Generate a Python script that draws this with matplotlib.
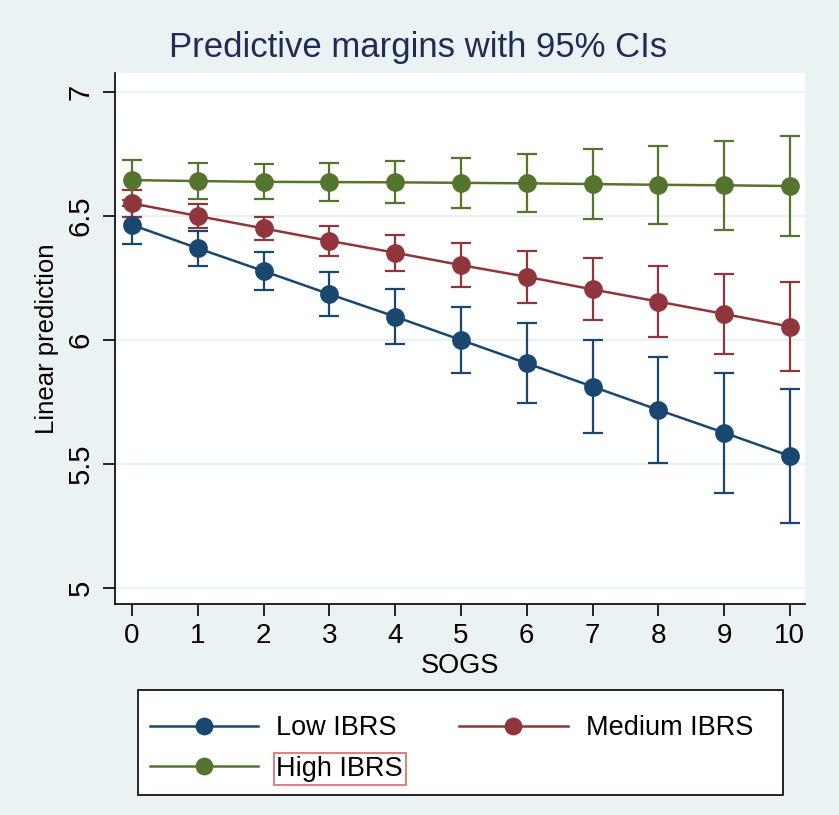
import matplotlib
matplotlib.use("Agg")
import matplotlib.pyplot as plt
from matplotlib.patches import Rectangle
import numpy as np

plt.rcParams['font.family'] = ['Liberation Sans', 'DejaVu Sans']

sogs = [0, 1, 2, 3, 4, 5, 6, 7, 8, 9, 10]
low_mean = [6.464, 6.370, 6.278, 6.185, 6.094, 6.000, 5.906, 5.812, 5.718, 5.626, 5.532]
low_half = [0.078, 0.071, 0.075, 0.090, 0.110, 0.135, 0.162, 0.188, 0.215, 0.242, 0.270]
med_mean = [6.551, 6.500, 6.450, 6.400, 6.352, 6.302, 6.255, 6.204, 6.155, 6.105, 6.054]
med_half = [0.054, 0.049, 0.048, 0.060, 0.073, 0.088, 0.105, 0.125, 0.143, 0.162, 0.180]
high_mean = [6.645, 6.641, 6.638, 6.637, 6.636, 6.634, 6.632, 6.629, 6.626, 6.624, 6.621]
high_half = [0.080, 0.073, 0.070, 0.075, 0.084, 0.100, 0.117, 0.140, 0.158, 0.180, 0.200]
labels = ['Low IBRS', 'Medium IBRS', 'High IBRS']
colors = ['#1a476f', '#90353b', '#55752f']
yticks = [5, 5.5, 6, 6.5, 7]
ytick_labels = ['5', '5.5', '6', '6.5', '7']

bg = '#eaf2f3'
W, H = 839, 815
fig = plt.figure(figsize=(W/100, H/100), dpi=100, facecolor=bg)
ax = fig.add_axes([115/W, 1 - 604/H, (805-115)/W, (604-73)/H])
ax.set_facecolor('white')

series = [(low_mean, low_half), (med_mean, med_half), (high_mean, high_half)]
handles = []
for (m, h), c, lab in zip(series, colors, labels):
    ax.errorbar(sogs, m, yerr=h, fmt='none', ecolor=c, elinewidth=1.6,
                capsize=7, capthick=1.6, zorder=2)
    ln, = ax.plot(sogs, m, color=c, lw=1.8, marker='o', markersize=13.5,
                  markeredgewidth=0, label=lab, zorder=3)
    handles.append(ln)

ax.set_xlim(-0.26, 10.23)
ax.set_ylim(4.935, 7.077)
ax.set_yticks(yticks)
ax.set_yticklabels(ytick_labels, rotation=90, va='center')
ax.set_xticks(sogs)
ax.grid(axis='y', color=bg, lw=1.5, zorder=0)
ax.set_axisbelow(True)
for s in ['top', 'right']:
    ax.spines[s].set_visible(False)
ax.spines['left'].set_linewidth(1.2)
ax.spines['bottom'].set_linewidth(1.2)
ax.tick_params(axis='both', length=8.5, width=1.2, color='black')
ax.tick_params(axis='x', labelsize=20, pad=5)
ax.tick_params(axis='y', labelsize=21, pad=6)
ax.set_xlabel('SOGS', fontsize=19.5, labelpad=3)
ax.set_ylabel('Linear prediction', fontsize=18.5, labelpad=6)

fig.suptitle('Predictive margins with 95% CIs', fontsize=25, color='#1e2d53',
             x=418/W, y=1 - 47/H, va='center')

# legend frame
fig.patches.append(Rectangle((138/W, 1 - 795/H), (783-138)/W, (795-690)/H,
                             transform=fig.transFigure, facecolor='white',
                             edgecolor='black', lw=1.2, zorder=0))

# row-wise order: Low, Medium / High
order = [0, 2, 1]
leg = fig.legend([handles[i] for i in order], [labels[i] for i in order],
                 loc='upper left', bbox_to_anchor=(150/W, 1 - 715/H),
                 ncol=2, fontsize=19.5, frameon=False,
                 handlelength=4.0, handletextpad=0.67, columnspacing=2.07,
                 borderaxespad=0, borderpad=0, labelspacing=0.55,
                 markerscale=0.95)
for t in leg.get_texts():
    if t.get_text() == 'High IBRS':
        t.set_bbox(dict(facecolor='none', edgecolor='#e06666', lw=1.2, pad=2))

fig.savefig('out.png', dpi=100, facecolor=bg)
